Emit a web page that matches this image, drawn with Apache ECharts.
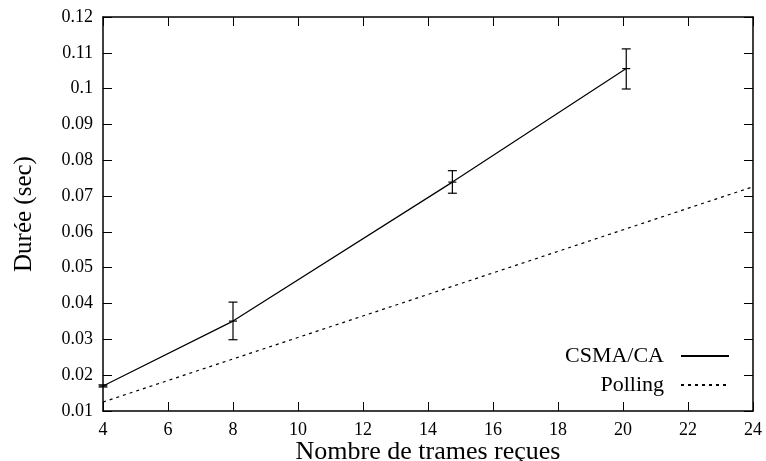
<!DOCTYPE html>
<html>
<head>
<meta charset="utf-8">
<script src="https://cdn.jsdelivr.net/npm/echarts@6/dist/echarts.min.js"></script>
<style>
  html, body { margin: 0; padding: 0; background: #fff; }
  #chart { width: 766px; height: 461px; }
</style>
</head>
<body>
<div id="chart"></div>
<script>
// CSMA/CA measurements (x, mean, low, high)
const csmaX = [4, 8, 14.75, 20.1];
const csmaY = [0.017, 0.0351, 0.0739, 0.1056];
const csmaLow = [0.0167, 0.0299, 0.0708, 0.0999];
const csmaHigh = [0.0173, 0.0404, 0.0771, 0.1111];

// Polling (theoretical line)
const pollX = [4, 24];
const pollY = [0.0125, 0.0726];

const font = "Liberation Serif, Times New Roman, serif";

const chart = echarts.init(document.getElementById("chart"));

const axisCommon = {
  axisLine: { lineStyle: { color: "#000", width: 1.5 } },
  axisTick: { inside: true, length: 9, lineStyle: { color: "#000" } },
  splitLine: { show: false },
};

chart.setOption({
  animation: false,
  backgroundColor: "#fff",
  textStyle: { fontFamily: font },
  grid: { left: 103, right: 13, top: 17, bottom: 50, outerBoundsMode: "none" },
  legend: {
    data: ["CSMA/CA", "Polling"],
    orient: "vertical",
    align: "right",
    right: 31,
    top: 340,
    itemWidth: 48,
    itemHeight: 14,
    itemGap: 7,
    itemStyle: { opacity: 0 },
    textStyle: { fontFamily: font, fontSize: 22, color: "#000", padding: [0, 12, 0, 0] },
  },
  xAxis: [
    {
      ...axisCommon,
      type: "value",
      min: 4,
      max: 24,
      interval: 2,
      name: "Nombre de trames reçues",
      nameLocation: "middle",
      nameMoveOverlap: false,
      nameGap: 28,
      nameTextStyle: { fontFamily: font, fontSize: 26, color: "#000" },
      axisLabel: { fontFamily: font, fontSize: 18, color: "#000", margin: 10 },
    },
    {
      ...axisCommon,
      type: "value",
      position: "top",
      min: 4,
      max: 24,
      interval: 2,
      axisLabel: { show: false },
    },
  ],
  yAxis: [
    {
      ...axisCommon,
      type: "value",
      min: 0.01,
      max: 0.12,
      interval: 0.01,
      name: "Durée (sec)",
      nameLocation: "middle",
      nameMoveOverlap: false,
      nameGap: 66,
      nameTextStyle: { fontFamily: font, fontSize: 25, color: "#000" },
      axisLabel: {
        fontFamily: font,
        fontSize: 18,
        color: "#000",
        margin: 10,
        formatter: (v) => String(+v.toFixed(2)),
      },
    },
    {
      ...axisCommon,
      type: "value",
      position: "right",
      min: 0.01,
      max: 0.12,
      interval: 0.01,
      axisLabel: { show: false },
    },
  ],
  series: [
    {
      name: "CSMA/CA",
      type: "line",
      data: csmaX.map((x, i) => [x, csmaY[i]]),
      symbol: "none",
      lineStyle: { color: "#000", width: 1.2 },
      itemStyle: { color: "#000" },
      z: 3,
    },
    {
      name: "Polling",
      type: "line",
      data: pollX.map((x, i) => [x, pollY[i]]),
      symbol: "none",
      lineStyle: { color: "#000", width: 1.2, type: [3, 4] },
      itemStyle: { color: "#000" },
      z: 3,
    },
    {
      name: "errors",
      type: "custom",
      data: csmaX.map((x, i) => [x, csmaLow[i], csmaHigh[i], csmaY[i]]),
      renderItem: (params, api) => {
        const x = api.value(0);
        const lo = api.coord([x, api.value(1)]);
        const hi = api.coord([x, api.value(2)]);
        const mid = api.coord([x, api.value(3)]);
        const w = 4.5;
        const style = { stroke: "#000", lineWidth: 1.2 };
        return {
          type: "group",
          children: [
            { type: "line", shape: { x1: lo[0], y1: lo[1], x2: hi[0], y2: hi[1] }, style },
            { type: "line", shape: { x1: lo[0] - w, y1: lo[1], x2: lo[0] + w, y2: lo[1] }, style },
            { type: "line", shape: { x1: hi[0] - w, y1: hi[1], x2: hi[0] + w, y2: hi[1] }, style },
            { type: "line", shape: { x1: mid[0] - 4, y1: mid[1], x2: mid[0] + 4, y2: mid[1] }, style },
          ],
        };
      },
      z: 4,
    },
  ],
});
</script>
</body>
</html>
